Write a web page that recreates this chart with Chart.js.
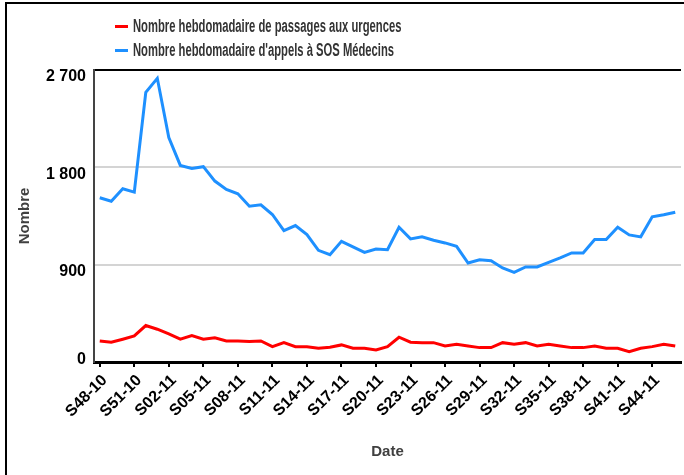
<!DOCTYPE html>
<html lang="fr">
<head>
<meta charset="utf-8">
<script src="https://cdn.jsdelivr.net/npm/chart.js@4"></script>
<style>
    html, body { margin: 0; padding: 0; background: #fff; overflow: hidden; }
    #wrap { position: relative; width: 684px; height: 475px; }
    #frame {
        position: absolute; left: 5px; top: 2px; width: 700px; height: 500px;
        border-top: 2px solid #000; border-left: 2px solid #000; pointer-events: none;
    }
    #legend { position: absolute; left: 115px; top: 16px; font-family: 'Liberation Sans', Arial, sans-serif; }
    .row { position: relative; height: 24px; }
    .swatch { position: absolute; left: 0; top: 9px; width: 13px; height: 3px; }
    .label {
        position: absolute; left: 18px; top: 0; white-space: nowrap;
        font-size: 18px; font-weight: bold; color: #333; line-height: 20px;
        transform: scaleX(0.624); transform-origin: left center;
    }
</style>
</head>
<body>
<div id="wrap">
    <canvas id="chart" width="684" height="475"></canvas>
    <div id="frame"></div>
    <div id="legend"></div>
</div>
<script>
// weeks S48-10 .. S46-11
const weeks = [
    'S48-10', 'S49-10', 'S50-10', 'S51-10', 'S52-10',
    'S01-11', 'S02-11', 'S03-11', 'S04-11', 'S05-11', 'S06-11', 'S07-11', 'S08-11', 'S09-11', 'S10-11',
    'S11-11', 'S12-11', 'S13-11', 'S14-11', 'S15-11', 'S16-11', 'S17-11', 'S18-11', 'S19-11', 'S20-11',
    'S21-11', 'S22-11', 'S23-11', 'S24-11', 'S25-11', 'S26-11', 'S27-11', 'S28-11', 'S29-11', 'S30-11',
    'S31-11', 'S32-11', 'S33-11', 'S34-11', 'S35-11', 'S36-11', 'S37-11', 'S38-11', 'S39-11', 'S40-11',
    'S41-11', 'S42-11', 'S43-11', 'S44-11', 'S45-11', 'S46-11'
];

const urgences = [
    195, 183, 211, 241, 337, 303, 260, 211, 244, 211, 223, 195, 195, 189, 195, 142, 179,
    142, 142, 127, 136, 158, 127, 127, 111, 142, 229, 183, 179, 179, 148, 164, 148, 133,
    133, 179, 164, 179, 148, 164, 148, 133, 133, 148, 127, 127, 96, 127, 142, 164, 148
];

const sosMedecins = [
    1519, 1487, 1602, 1571, 2493, 2623, 2075, 1818, 1790, 1806, 1673, 1596, 1556, 1441, 1454, 1364, 1215,
    1262, 1178, 1033, 993, 1116, 1064, 1014, 1045, 1039, 1246, 1138, 1157, 1126, 1101, 1070, 915, 946,
    937, 869, 829, 879, 879, 922, 962, 1008, 1008, 1132, 1132, 1246, 1175, 1157, 1342, 1361, 1385
];

const seriesNames = [
    'Nombre hebdomadaire de passages aux urgences',
    "Nombre hebdomadaire d'appels à SOS Médecins"
];
const seriesColors = ['#ff0000', '#1e90ff'];

const yTicks = [0, 900, 1800, 2700];

// legend as html so it can be squeezed like the original
const legend = document.getElementById('legend');
seriesNames.forEach((name, i) => {
    const row = document.createElement('div');
    row.className = 'row';
    row.innerHTML = `<span class="swatch" style="background:${seriesColors[i]}"></span><span class="label">${name}</span>`;
    legend.appendChild(row);
});

Chart.defaults.font.family = "'Liberation Sans', Arial, sans-serif";

const fmt = v => String(v).replace(/\B(?=(\d{3})+(?!\d))/g, ' ');

new Chart(document.getElementById('chart'), {
    type: 'line',
    data: {
        labels: weeks,
        datasets: [
            { label: seriesNames[0], data: urgences, borderColor: seriesColors[0], backgroundColor: seriesColors[0] },
            { label: seriesNames[1], data: sosMedecins, borderColor: seriesColors[1], backgroundColor: seriesColors[1] }
        ]
    },
    options: {
        responsive: false,
        devicePixelRatio: 1,
        animation: false,
        layout: { padding: { top: 70, right: 3, bottom: 0, left: 0 } },
        elements: {
            line: { borderWidth: 3, tension: 0 },
            point: { radius: 0 }
        },
        plugins: {
            legend: { display: false },
            tooltip: { enabled: false }
        },
        scales: {
            x: {
                offset: true,
                afterFit: s => { s.height = 113; },
                afterBuildTicks: s => { s.ticks = s.ticks.filter(t => t.value % 3 === 0); },
                border: { color: '#000', width: 3 },
                grid: { drawOnChartArea: false, color: '#000', lineWidth: 2, tickLength: 5 },
                ticks: {
                    autoSkip: false, minRotation: 45, maxRotation: 45, padding: 4, labelOffset: 5,
                    color: '#000', font: { size: 16, weight: 'bold' }
                },
                title: {
                    display: true, text: 'Date', color: '#404040',
                    font: { size: 15, weight: 'bold' }, padding: { top: 0, bottom: 14 }
                }
            },
            y: {
                min: 0,
                max: 2700,
                afterFit: s => { s.width = 94; },
                afterBuildTicks: s => { s.ticks = yTicks.map(v => ({ value: v })); },
                border: { color: '#444', width: 2 },
                grid: {
                    drawTicks: false,
                    lineWidth: 2,
                    color: c => c.tick.value === 2700 ? '#000' : (c.tick.value === 0 ? 'rgba(0,0,0,0)' : '#d4d4d4')
                },
                ticks: {
                    padding: 8, labelOffset: 7,
                    color: '#000', font: { size: 16, weight: 'bold' },
                    callback: v => v === 0 ? ['0', ''] : fmt(v)
                },
                title: {
                    display: true, text: 'Nombre', color: '#404040',
                    font: { size: 15, weight: 'bold' }, padding: { top: 16, bottom: 0 }
                }
            }
        }
    }
});
</script>
</body>
</html>
